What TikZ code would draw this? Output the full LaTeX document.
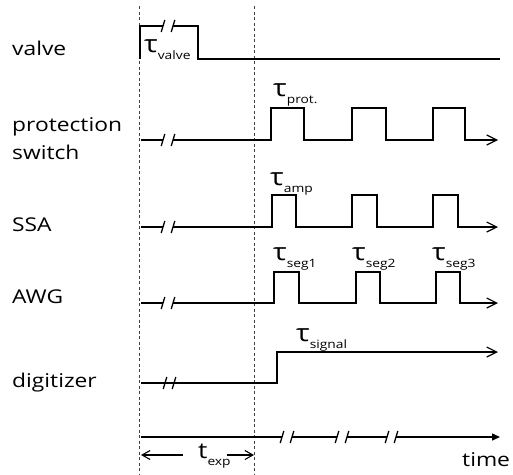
\documentclass[tikz,border=0pt]{standalone}
\usepackage{fontspec}
\setmainfont{Open Sans}[FakeStretch=1.2]
\usetikzlibrary{arrows.meta}
\newcommand\taulab[1]{{\fontsize{24}{24}\selectfont τ}\raisebox{-7pt}{\fontsize{11.5}{11.5}\selectfont #1}}
\newcommand\brkmark[2]{\draw[brk] (#1-1.8,#2+6) -- (#1+1.8,#2-6);}
\begin{document}
\begin{tikzpicture}[x=1pt,y=-1pt,
  sig/.style={line width=1.4pt, line join=miter},
  brk/.style={line width=1.3pt},
  guide/.style={line width=0.6pt, black!75, dash pattern=on 3pt off 2.5pt},
  lbl/.style={anchor=base west, inner sep=0pt, font=\fontsize{19}{22}\selectfont},
  taun/.style={anchor=base west, inner sep=0pt},
  openarr/.style={-{Straight Barb[length=10pt,width=10pt,line width=1.2pt]}},
  smallarr/.style={line width=1.1pt,-{Straight Barb[length=8pt,width=9pt,line width=1.1pt]}},
  filledarr/.style={-{Triangle[length=8pt,width=7pt]}}
]
\useasboundingbox (0,0) rectangle (513,474);

% guide lines
\draw[guide] (139,6) -- (139,474);
\draw[guide] (254,6) -- (254,474);

% row labels
\node[lbl] (lvalve) at (12,55) {valve};
\node[lbl] (lprot1) at (12,131) {protection};
\node[lbl] (lprot2) at (12,159) {switch};
\node[lbl] (lssa) at (12,231) {SSA};
\node[lbl] (lawg) at (12,303) {AWG};
\node[lbl] (ldig) at (12,387) {digitizer};

% valve
\draw[sig] (140,59) -- (140,26) -- (163,26);
\draw[sig] (173,26) -- (198,26) -- (198,59) -- (500,59);
\brkmark{163}{26}\brkmark{173}{26}
\node[taun] (tvalve) at (144,52) {\taulab{valve}};

% protection switch
\draw[sig] (141,140) -- (163,140);
\draw[sig,openarr] (173,140) -- (271,140) -- (271,108) -- (304,108) -- (304,140)
  -- (352,140) -- (352,108) -- (386,108) -- (386,140)
  -- (433,140) -- (433,108) -- (465,108) -- (465,140) -- (498,140);
\brkmark{163}{140}\brkmark{173}{140}
\node[taun] (tprot) at (273,96) {\taulab{prot.}};

% SSA
\draw[sig] (141,227) -- (163,227);
\draw[sig,openarr] (173,227) -- (272,227) -- (272,195) -- (296,195) -- (296,227)
  -- (352,227) -- (352,195) -- (377,195) -- (377,227)
  -- (433,227) -- (433,195) -- (458,195) -- (458,227) -- (498,227);
\brkmark{163}{227}\brkmark{173}{227}
\node[taun] (tamp) at (270,185) {\taulab{amp}};

% AWG
\draw[sig] (141,303) -- (163,303);
\draw[sig,openarr] (173,303) -- (274,303) -- (274,272) -- (299,272) -- (299,303)
  -- (356,303) -- (356,272) -- (380,272) -- (380,303)
  -- (436,303) -- (436,272) -- (460,272) -- (460,303) -- (498,303);
\brkmark{163}{303}\brkmark{173}{303}
\node[taun] (tseg1) at (273,260) {\taulab{seg1}};
\node[taun] (tseg2) at (352,260) {\taulab{seg2}};
\node[taun] (tseg3) at (432,260) {\taulab{seg3}};

% digitizer
\draw[sig,openarr] (141,383) -- (277,383) -- (277,352) -- (498,352);
\brkmark{165}{383}\brkmark{174}{383}
\node[taun] (tsig) at (296,341) {\taulab{signal}};

% time axis
\draw[sig] (141,437) -- (282,437);
\draw[sig] (292,437) -- (337,437);
\draw[sig] (347,437) -- (387,437);
\draw[sig,filledarr] (396,437) -- (500,437);
\brkmark{282}{437}\brkmark{292}{437}
\brkmark{337}{437}\brkmark{347}{437}
\brkmark{387}{437}\brkmark{396}{437}
\node[lbl] (ltime) at (462,466) {time};

% t_exp
\node[taun] (texp) at (198,458) {{\fontsize{22}{22}\selectfont t}\raisebox{-7pt}{\fontsize{11.5}{11.5}\selectfont exp}};
\coordinate (eL) at (141,455);
\coordinate (eR) at (254,455);
\draw[smallarr] (texp.west |- eL) ++(-15,0) -- (eL);
\draw[smallarr] (texp.east |- eR) ++(-4,0) -- (eR);
\end{tikzpicture}
\end{document}
